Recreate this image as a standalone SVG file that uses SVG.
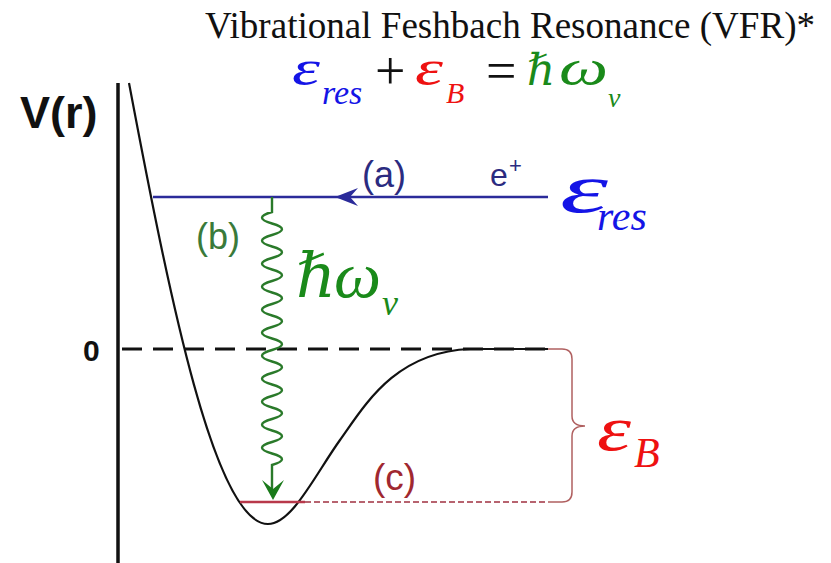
<svg xmlns="http://www.w3.org/2000/svg" width="831" height="563" viewBox="0 0 831 563">
<defs>
<style>
.serif{font-family:"Liberation Serif","DejaVu Serif",serif}
.it{font-style:italic}
.sans{font-family:"Liberation Sans",Arial,sans-serif}
.blue{fill:#1414e6}
.red{fill:#ee1111}
.grn{fill:#1a8a1a}
</style>
</defs>
<rect width="831" height="563" fill="#ffffff"/>
<g id="title">
<text class="serif" x="205" y="38" font-size="37.5" textLength="610" lengthAdjust="spacingAndGlyphs" fill="#111">Vibrational Feshbach Resonance (VFR)*</text>
</g>
<g id="equation" class="serif">
<text class="it blue" x="292" y="85" font-size="50" textLength="28" lengthAdjust="spacingAndGlyphs">ε</text>
<text class="it blue" x="322" y="104" font-size="34">res</text>
<text x="375" y="89" font-size="54" fill="#111">+</text>
<text class="it red" x="415" y="85" font-size="50" textLength="28" lengthAdjust="spacingAndGlyphs">ε</text>
<text class="it red" x="446" y="103" font-size="30">B</text>
<text x="486" y="89" font-size="54" fill="#111">=</text>
<text class="it grn" x="527" y="85" font-size="44">ℏ</text>
<text class="it grn" x="559" y="85" font-size="50" textLength="49" lengthAdjust="spacingAndGlyphs">ω</text>
<text class="it grn" x="608" y="107" font-size="28">ν</text>
</g>
<g id="axes">
<line x1="118" y1="83" x2="118" y2="563" stroke="#111" stroke-width="3.5"/>
<text class="sans" x="20" y="128" font-size="45" font-weight="bold" fill="#111">V(r)</text>
<text class="sans" x="83" y="361" font-size="30" font-weight="bold" fill="#111">0</text>
<line x1="122" y1="349" x2="548" y2="349" stroke="#111" stroke-width="3" stroke-dasharray="20 11"/>
</g>
<g id="potential">
<path d="M129,83 C170,300 215,524 268,524 C292,524 315,475 340,440 C365,405 395,352 470,349 L548,349" fill="none" stroke="#111" stroke-width="2.2"/>
</g>
<g id="level-res">
<line x1="153" y1="197" x2="548" y2="197" stroke="#2b2b9a" stroke-width="2.5"/>
<path d="M335,197 L358,188 L350,197 L358,206 Z" fill="#2b2b9a"/>
<text class="sans" x="362" y="187" font-size="36" fill="#2b2b80">(a)</text>
<text class="sans" x="490" y="186" font-size="32" fill="#2b2b80">e</text>
<text class="sans" x="509" y="173" font-size="22" fill="#2b2b80">+</text>
<text class="serif it blue" x="560" y="212" font-size="70" textLength="48" lengthAdjust="spacingAndGlyphs">ε</text>
<text class="serif it blue" x="597" y="230" font-size="42">res</text>
</g>
<g id="transition">
<path d="M272,197 L272,212 q-20,5.75 0,11.5 q20,5.75 0,11.5 q-20,5.75 0,11.5 q20,5.75 0,11.5 q-20,5.75 0,11.5 q20,5.75 0,11.5 q-20,5.75 0,11.5 q20,5.75 0,11.5 q-20,5.75 0,11.5 q20,5.75 0,11.5 q-20,5.75 0,11.5 q20,5.75 0,11.5 q-20,5.75 0,11.5 q20,5.75 0,11.5 q-20,5.75 0,11.5 q20,5.75 0,11.5 q-20,5.75 0,11.5 q20,5.75 0,11.5 q-20,5.75 0,11.5 q20,5.75 0,11.5 q-20,5.75 0,11.5 q20,5.75 0,11.5 L272,490" fill="none" stroke="#2a7a2a" stroke-width="2.4"/>
<path d="M273,500 L262,480 L273,489 L284,480 Z" fill="#1a7a1a"/>
<text class="sans" x="196" y="249" font-size="36" fill="#3a7a3a">(b)</text>
<text class="serif it grn" x="296" y="297" font-size="62">ℏ</text>
<text class="serif it grn" x="334" y="297" font-size="66" textLength="47" lengthAdjust="spacingAndGlyphs">ω</text>
<text class="serif it grn" x="382" y="315" font-size="36">ν</text>
</g>
<g id="level-bound">
<line x1="240" y1="502" x2="305" y2="502" stroke="#b8384a" stroke-width="2.5"/>
<line x1="305" y1="502" x2="545" y2="502" stroke="#a03040" stroke-width="1.5" stroke-dasharray="6 3"/>
<text class="sans" x="373" y="490" font-size="37" fill="#a02830">(c)</text>
<path d="M548,349 L562,349 Q572,349 572,359 L572,416 Q572,426 585,426 Q572,426 572,436 L572,492 Q572,502 562,502 L548,502" fill="none" stroke="#b06060" stroke-width="1.5"/>
<text class="serif it red" x="597" y="450" font-size="64" textLength="34" lengthAdjust="spacingAndGlyphs">ε</text>
<text class="serif it red" x="634" y="467" font-size="42">B</text>
</g>
</svg>
